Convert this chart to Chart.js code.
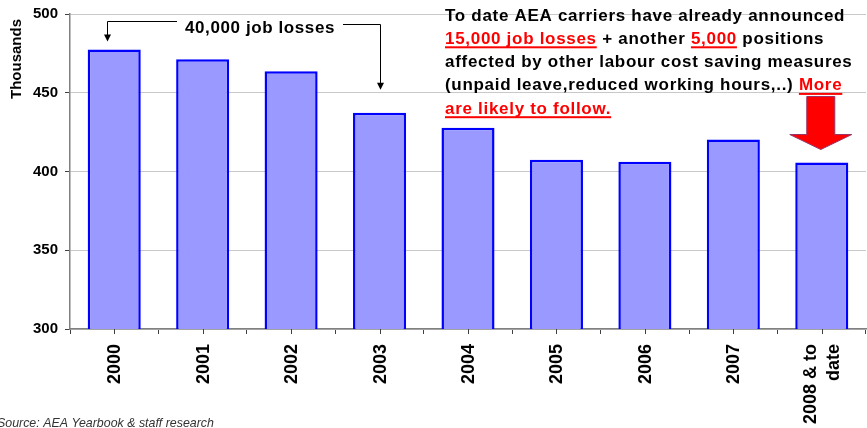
<!DOCTYPE html>
<html>
<head>
<meta charset="utf-8">
<script src="https://cdn.jsdelivr.net/npm/chart.js@4.4.1/dist/chart.umd.min.js"></script>
<style>
  html, body { margin: 0; padding: 0; background: #ffffff; }
  #wrap { position: relative; width: 867px; height: 428px; }
</style>
</head>
<body>
<div id="wrap"><canvas id="c" width="867" height="428"></canvas></div>
<script>
// ---- data ----
const categories = ['2000', '2001', '2002', '2003', '2004', '2005', '2006', '2007', ['2008 & to', 'date']];
const employees = [477.5, 471.3, 463.7, 437.3, 427.8, 407.4, 406.2, 420.3, 405.7];
const yMin = 300;
const yMax = 500;
const yStep = 50;
const axisTitle = 'Thousands';
const sourceNote = 'Source: AEA Yearbook & staff research';
const bracketLabel = '40,000 job losses';
const noteLines = [
  [['To date AEA carriers have already announced', false]],
  [['15,000 job losses', true], [' + another ', false], ['5,000', true], [' positions', false]],
  [['affected by other labour cost saving measures', false]],
  [['(unpaid leave,reduced working hours,..) ', false], ['More', true]],
  [['are likely to follow.', true]]
];

const FONT = '"Liberation Sans", Arial, Helvetica, sans-serif';

const annotations = {
  id: 'annotations',
  afterDraw(chart) {
    const ctx = chart.ctx;
    const xs = chart.scales.x;
    const ys = chart.scales.y;
    const area = chart.chartArea;
    ctx.save();

    // extra tick marks at category centres
    ctx.strokeStyle = '#404040';
    ctx.lineWidth = 1;
    for (let i = 0; i < categories.length; i++) {
      const px = Math.round(xs.getPixelForValue(i)) + 0.5;
      ctx.beginPath();
      ctx.moveTo(px, area.bottom);
      ctx.lineTo(px, area.bottom + 5);
      ctx.stroke();
    }

    // category labels, rotated, centred on each category
    ctx.fillStyle = '#000';
    ctx.font = 'bold 18px ' + FONT;
    ctx.textAlign = 'right';
    ctx.textBaseline = 'middle';
    const labLH = 23;
    categories.forEach((lab, i) => {
      const lines = Array.isArray(lab) ? lab : [lab];
      const px = xs.getPixelForValue(i) + 1;
      ctx.save();
      ctx.translate(px, area.bottom + 15);
      ctx.rotate(-Math.PI / 2);
      lines.forEach((ln, k) => {
        ctx.fillText(ln, 0, (k - (lines.length - 1) / 2) * labLH);
      });
      ctx.restore();
    });

    // axis title at the top-left
    ctx.save();
    ctx.translate(17, 59);
    ctx.rotate(-Math.PI / 2);
    ctx.fillStyle = '#000';
    ctx.font = 'bold 15px ' + FONT;
    ctx.textAlign = 'center';
    ctx.textBaseline = 'middle';
    ctx.fillText(axisTitle, 0, 0);
    ctx.restore();

    // source note
    ctx.fillStyle = '#333';
    ctx.font = 'italic 12.4px ' + FONT;
    ctx.textAlign = 'left';
    ctx.textBaseline = 'alphabetic';
    ctx.fillText(sourceNote, -3, 427);

    // bracket with arrows: 2000 -> 2003
    const xL = Math.round(xs.getPixelForValue(0) - 7) + 0.5;
    const xR = Math.round(xs.getPixelForValue(3)) + 0.5;
    const tipL = ys.getPixelForValue(employees[0]) - 8;
    const tipR = ys.getPixelForValue(employees[3]) - 23;
    ctx.strokeStyle = '#000';
    ctx.fillStyle = '#000';
    ctx.lineWidth = 1;
    ctx.beginPath();
    ctx.moveTo(177, 21.5);
    ctx.lineTo(xL, 21.5);
    ctx.lineTo(xL, tipL - 5);
    ctx.stroke();
    ctx.beginPath();
    ctx.moveTo(xL - 3.5, tipL - 7);
    ctx.lineTo(xL + 3.5, tipL - 7);
    ctx.lineTo(xL, tipL);
    ctx.closePath();
    ctx.fill();
    ctx.beginPath();
    ctx.moveTo(343, 24.5);
    ctx.lineTo(xR, 24.5);
    ctx.lineTo(xR, tipR - 5);
    ctx.stroke();
    ctx.beginPath();
    ctx.moveTo(xR - 3.5, tipR - 7);
    ctx.lineTo(xR + 3.5, tipR - 7);
    ctx.lineTo(xR, tipR);
    ctx.closePath();
    ctx.fill();

    ctx.font = 'bold 17px ' + FONT;
    ctx.letterSpacing = '0.6px';
    ctx.textAlign = 'left';
    ctx.textBaseline = 'alphabetic';
    const bw = ctx.measureText(bracketLabel).width;
    ctx.fillText(bracketLabel, 260 - bw / 2, 33);

    // note text block
    ctx.font = 'bold 17px ' + FONT;
    ctx.letterSpacing = '0.7px';
    ctx.textAlign = 'left';
    const x0 = 445;
    const lineH = 23.3;
    noteLines.forEach((segs, li) => {
      const by = 20.5 + li * lineH;
      let cx = x0;
      segs.forEach(([txt, red]) => {
        const w = ctx.measureText(txt).width;
        ctx.fillStyle = red ? '#ff0000' : '#000';
        ctx.fillText(txt, cx, by);
        if (red) {
          ctx.fillRect(cx, by + 2.5, w, 2);
        }
        cx += w;
      });
    });
    ctx.letterSpacing = '0px';

    // red block arrow above the last bar
    const ax = xs.getPixelForValue(categories.length - 1) - 1;
    const tip = ys.getPixelForValue(employees[employees.length - 1]) - 13;
    ctx.beginPath();
    ctx.moveTo(ax - 14, tip - 53);
    ctx.lineTo(ax + 14, tip - 53);
    ctx.lineTo(ax + 14, tip - 15);
    ctx.lineTo(ax + 31, tip - 15);
    ctx.lineTo(ax, tip);
    ctx.lineTo(ax - 31, tip - 15);
    ctx.lineTo(ax - 14, tip - 15);
    ctx.closePath();
    ctx.fillStyle = '#ff0000';
    ctx.fill();
    ctx.strokeStyle = '#993366';
    ctx.lineWidth = 1;
    ctx.stroke();

    ctx.restore();
  }
};

new Chart(document.getElementById('c'), {
  type: 'bar',
  data: {
    labels: categories,
    datasets: [{
      data: employees,
      backgroundColor: '#9999ff',
      borderColor: '#0000ff',
      borderWidth: 2.5,
      borderSkipped: false,
      categoryPercentage: 0.8,
      barPercentage: 0.75
    }]
  },
  options: {
    responsive: false,
    animation: false,
    devicePixelRatio: 1,
    layout: { padding: { top: 14, right: 1, left: 0, bottom: 0 } },
    plugins: { legend: { display: false }, tooltip: { enabled: false }, title: { display: false } },
    scales: {
      x: {
        afterFit(s) { s.height = 99; s.paddingLeft = 0; s.paddingRight = 0; },
        grid: { display: true, drawOnChartArea: false, offset: true, tickLength: 5, tickColor: '#404040' },
        border: { display: true, color: '#808080', width: 1.5 },
        ticks: {
          display: false,
          autoSkip: false
        }
      },
      y: {
        min: yMin,
        max: yMax,
        afterFit(s) { s.width = 70; s.paddingTop = 0; s.paddingBottom = 0; },
        grid: { color: '#c8c8c8', lineWidth: 1, tickLength: 5, tickColor: '#404040' },
        border: { display: true, color: '#808080', width: 1.5 },
        ticks: {
          stepSize: yStep,
          padding: 7,
          color: '#000',
          font: { family: FONT, size: 15, weight: 'bold' }
        }
      }
    }
  },
  plugins: [annotations]
});
</script>
</body>
</html>
